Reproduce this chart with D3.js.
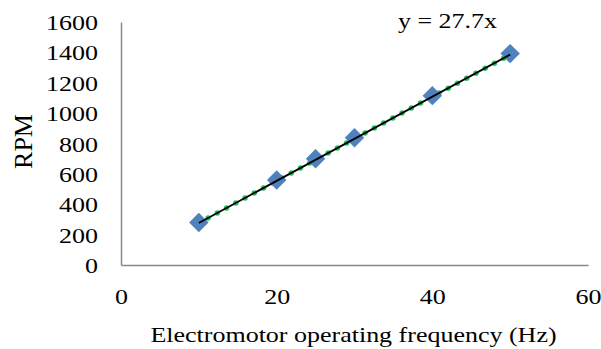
<!DOCTYPE html>
<html><head><meta charset="utf-8">
<script src="https://cdn.jsdelivr.net/npm/d3@7"></script>
<style>body{margin:0;background:#fff;} svg{display:block;}</style>
</head><body>
<svg id="c" width="601" height="349"></svg>
<script>
const freqHz = [10, 20, 25, 30, 40, 50];
const rpm = [280, 560, 700, 838, 1115, 1392];
const slope = 27.7;
const xTicks = [0, 20, 40, 60];
const yTicks = [0, 200, 400, 600, 800, 1000, 1200, 1400, 1600];
const equationLabel = "y = 27.7x";
const xTitle = "Electromotor operating frequency (Hz)";
const yTitle = "RPM";

const svg = d3.select("#c");
const font = "'Liberation Serif','Times New Roman',serif";
const FS = 26, SY = 0.83;
const x = d3.scaleLinear().domain([0, 60]).range([121, 588]);
const y = d3.scaleLinear().domain([0, 1600]).range([265, 22]);

// axes
const xAxis = svg.append("g").attr("transform", "translate(0,265)")
  .call(d3.axisBottom(x).tickValues(xTicks).tickSize(0).tickFormat(d3.format("d")));
const yAxis = svg.append("g").attr("transform", "translate(121,0)")
  .call(d3.axisLeft(y).tickValues(yTicks).tickSize(0).tickFormat(d3.format("d")));
[xAxis, yAxis].forEach(g => {
  g.select(".domain").attr("stroke", "#898989").attr("stroke-width", 1.5);
  g.selectAll("text").attr("font-family", font).attr("font-size", FS).attr("fill", "#000")
    .attr("transform", `scale(1,${SY})`).attr("dy", 0);
});
xAxis.selectAll("text").attr("y", 39 / SY);
yAxis.selectAll("text").attr("x", -23).attr("y", 7.5 / SY);

// trendline points
const trend = [10, 50].map(f => [f, slope * f]);
const line = d3.line().x(d => x(d[0])).y(d => y(d[1]));
svg.append("path").attr("d", line(trend)).attr("fill", "none")
  .attr("stroke", "#1FC35A").attr("stroke-width", 5.5)
  .attr("stroke-linecap", "round").attr("stroke-dasharray", "0 10.5");

// data diamonds
svg.append("g").selectAll("path").data(freqHz).join("path")
  .attr("d", d3.symbol(d3.symbolDiamond2, 240)())
  .attr("transform", (d, i) => `translate(${x(d)},${y(rpm[i])})`)
  .attr("fill", "#4F81BD");

svg.append("path").attr("d", line(trend)).attr("fill", "none")
  .attr("stroke", "#000").attr("stroke-width", 1.8);

function hText(cx, base, str) {
  svg.append("text").attr("transform", `translate(${cx},${base}) scale(1,${SY})`)
    .attr("text-anchor", "middle").attr("font-family", font).attr("font-size", FS).text(str);
}
hText(447.5, 28, equationLabel);
hText(353.5, 342, xTitle);
svg.append("text").attr("transform", "translate(32,141.5) rotate(-90)").attr("text-anchor", "middle")
  .attr("font-family", font).attr("font-size", FS).text(yTitle);
</script>
</body></html>
